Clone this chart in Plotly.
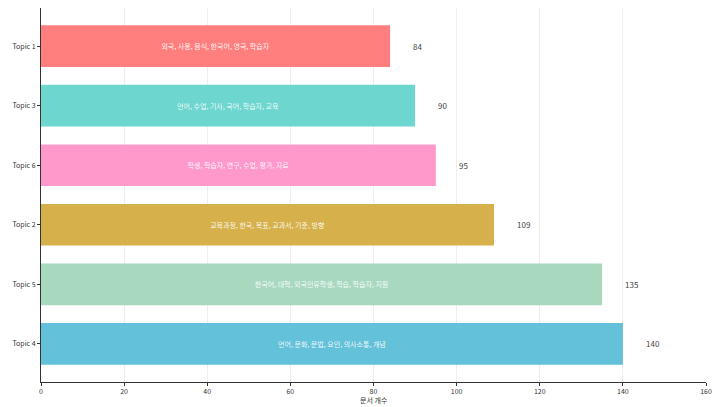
import plotly.graph_objects as go

topics = ["Topic 4", "Topic 5", "Topic 2", "Topic 6", "Topic 3", "Topic 1"]
counts = [140, 135, 109, 95, 90, 84]
keywords = [
    "언어, 문화, 문법, 요인, 의사소통, 개념",
    "한국어, 대학, 외국인유학생, 학습, 학습자, 지원",
    "교육과정, 한국, 목표, 교과서, 기준, 방향",
    "학생, 학습자, 연구, 수업, 평가, 자료",
    "언어, 수업, 기사, 국어, 학습자, 교육",
    "외국, 사용, 음식, 한국어, 영국, 학습자",
]
colors = ["#63C1D9", "#A8D9BF", "#D6B04A", "#FF99CC", "#6CD6CF", "#FF7F7F"]
x_ticks = [0, 20, 40, 60, 80, 100, 120, 140, 160]

FONT = "Noto Sans CJK KR, Noto Sans, sans-serif"

fig = go.Figure()
fig.add_trace(go.Bar(
    y=topics, x=counts, orientation="h",
    marker=dict(color=colors, line=dict(width=0)),
    width=0.7,
    text=keywords, textposition="inside", insidetextanchor="middle",
    textfont=dict(color="rgba(255,255,255,0.92)", size=7, family=FONT),
    hoverinfo="skip",
))

for t, c in zip(topics, counts):
    fig.add_annotation(x=c + 5, y=t, text=str(c), showarrow=False,
                       xanchor="left", yanchor="middle",
                       font=dict(size=8, color="#444444", family=FONT))

# x-axis title placed just below tick labels (plot area height = 407-8-25 = 374)
fig.add_annotation(x=0.5, xref="paper", y=(382 - 400) / 374, yref="paper",
                   text="문서 개수", showarrow=False, xanchor="center",
                   yanchor="middle", font=dict(size=7, color="#333333", family=FONT))

fig.update_layout(
    width=714, height=407,
    margin=dict(l=41, r=8, t=8, b=25, autoexpand=False),
    plot_bgcolor="white", paper_bgcolor="white",
    showlegend=False,
    font=dict(family=FONT, size=7, color="#333333"),
    xaxis=dict(
        range=[0, 160], tickvals=x_ticks, ticktext=[str(v) for v in x_ticks],
        showgrid=True, gridcolor="#EEEEEE", gridwidth=1,
        showline=True, linecolor="#333333", linewidth=1,
        ticks="outside", ticklen=3, tickcolor="#333333",
        zeroline=False, tickfont=dict(size=7, color="#333333"),
        ticklabeloverflow="allow",
        automargin=False,
    ),
    yaxis=dict(
        categoryorder="array", categoryarray=topics,
        range=[-0.64, 5.64],
        showgrid=False,
        showline=True, linecolor="#333333", linewidth=1,
        ticks="outside", ticklen=3, tickcolor="#333333",
        tickfont=dict(size=7, color="#333333"),
        automargin=False,
    ),
)

fig.write_html("out.html",
               config={"displayModeBar": False},
               post_script="document.body.style.margin='0';document.body.style.overflow='hidden';")
